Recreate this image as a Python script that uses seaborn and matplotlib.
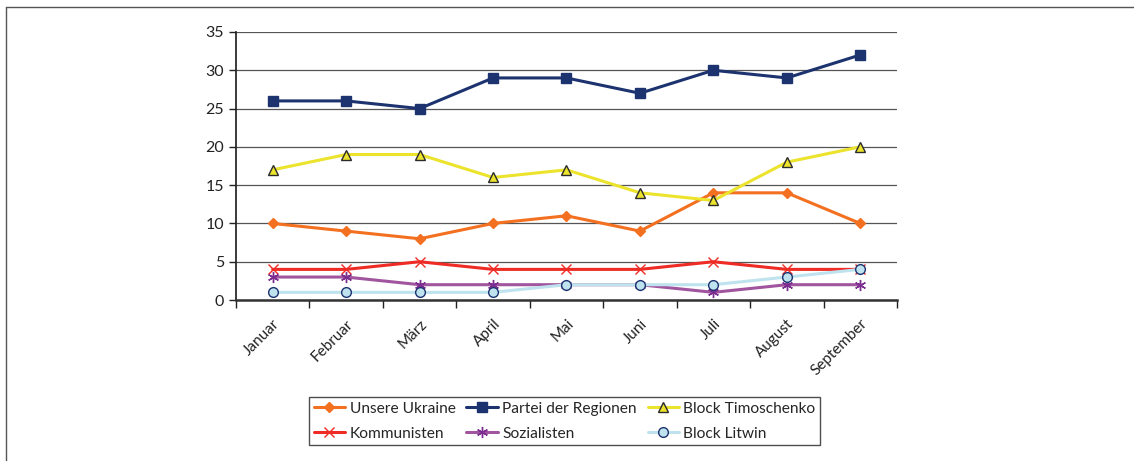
import numpy as np
import pandas as pd
import matplotlib
matplotlib.use("Agg")
import matplotlib.pyplot as plt
import matplotlib.ticker as mticker
from matplotlib.lines import Line2D
import seaborn as sns

# ── Data ──────────────────────────────────────────────────────────────────────
months = ["Januar", "Februar", "März", "April", "Mai", "Juni",
          "Juli", "August", "September"]

unsere_ukraine   = [10, 9, 8, 10, 11, 9, 14, 14, 10]
partei_regionen  = [26, 26, 25, 29, 29, 27, 30, 29, 32]
block_timoschenko = [17, 19, 19, 16, 17, 14, 13, 18, 20]
kommunisten      = [4, 4, 5, 4, 4, 4, 5, 4, 4]
sozialisten      = [3, 3, 2, 2, 2, 2, 1, 2, 2]
block_litwin     = [1, 1, 1, 1, 2, 2, 2, 3, 4]

# ── Style ─────────────────────────────────────────────────────────────────────
sns.set_theme(style="white")
plt.rcParams["font.family"] = ["Lato", "DejaVu Sans"]

series = [
    # name, values, line colour, marker, face, edge, size
    ("Unsere Ukraine",      unsere_ukraine,    "#f37021", "D", "#f37021", "#f37021", 5),
    ("Partei der Regionen", partei_regionen,   "#1c3370", "s", "#1c3370", "#1c3370", 7),
    ("Block Timoschenko",   block_timoschenko, "#ece32c", "^", "#ece32c", "#2b2b2b", 7),
    ("Kommunisten",         kommunisten,       "#ee2b24", "x", "#ee2b24", "#ee2b24", 7),
    ("Sozialisten",         sozialisten,       "#a0559e", (6, 2, 0), "#7b2d8f", "#7b2d8f", 8),
    ("Block Litwin",        block_litwin,      "#bfe3ee", "o", "#bfe3ee", "#1c3370", 7),
]

fig = plt.figure(figsize=(11.34, 4.61), dpi=100)
ax = fig.add_axes([0.2081, 0.3492, 0.5829, 0.5814])

x = np.arange(len(months))
handles = {}
for name, vals, col, mk, fc, ec, ms in series:
    df = pd.DataFrame({"x": x, "y": vals})
    sns.lineplot(data=df, x="x", y="y", ax=ax, color=col, linewidth=2.2,
                 marker=mk, markersize=ms, markerfacecolor=fc,
                 markeredgecolor=ec, markeredgewidth=1.0, sort=False)
    handles[name] = Line2D([], [], color=col, linewidth=2.2, marker=mk,
                           markersize=ms, markerfacecolor=fc,
                           markeredgecolor=ec, markeredgewidth=1.0)

# ── Axes ──────────────────────────────────────────────────────────────────────
ax.set_xlim(-0.5, len(months) - 0.5)
ax.set_ylim(0, 35)
ax.yaxis.set_major_locator(mticker.MultipleLocator(5))
ax.set_xticks(x)
ax.set_xticklabels(months, rotation=45, ha="right", rotation_mode="anchor",
                   fontsize=11, color="#222222")
ax.set_xticks(np.arange(-0.5, len(months)), minor=True)
ax.tick_params(axis="x", which="major", length=0, pad=12)
ax.tick_params(axis="x", which="minor", length=6, width=1, color="#222222",
               direction="out", bottom=True)
ax.tick_params(axis="y", length=5, width=1, color="#222222", direction="out",
               left=True, labelsize=11.5, labelcolor="#222222")
ax.set_xlabel("")
ax.set_ylabel("")
ax.grid(axis="y", color="#555555", linewidth=0.9)
ax.set_axisbelow(True)
for side in ["top", "right"]:
    ax.spines[side].set_visible(False)
ax.spines["left"].set_color("#222222")
ax.spines["bottom"].set_color("#333333")
ax.spines["bottom"].set_linewidth(1.8)

# ── Legend ────────────────────────────────────────────────────────────────────
order = ["Unsere Ukraine", "Kommunisten", "Partei der Regionen",
         "Sozialisten", "Block Timoschenko", "Block Litwin"]
leg = fig.legend([handles[n] for n in order], order, ncol=3,
                 loc="center", bbox_to_anchor=(0.498, 0.086),
                 frameon=True, fancybox=False, shadow=False, fontsize=11.2,
                 handlelength=2.0, handletextpad=0.3, columnspacing=0.7,
                 labelspacing=0.7, borderpad=0.3)
leg.get_frame().set_edgecolor("#222222")
leg.get_frame().set_linewidth(1.0)

# ── Outer frame ───────────────────────────────────────────────────────────────
fig.add_artist(Line2D([6 / 1134, 6 / 1134], [0, 1 - 7 / 461],
                      transform=fig.transFigure, color="#555555", linewidth=1))
fig.add_artist(Line2D([6 / 1134, 1], [1 - 7 / 461, 1 - 7 / 461],
                      transform=fig.transFigure, color="#555555", linewidth=1))

fig.savefig("out.png", dpi=100)
